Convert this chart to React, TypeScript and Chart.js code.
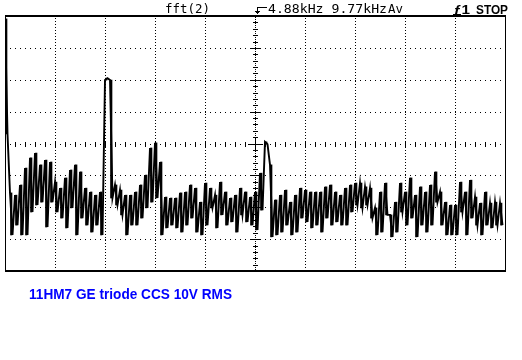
import React, { useEffect, useRef } from "react";
import { Chart, registerables } from "chart.js";

Chart.register(...registerables);

// Scope settings
const CENTER_KHZ = 4.88;
const SPAN_KHZ = 9.77;
const X_DIVS = 10;
const Y_DIVS = 8;
const DB_PER_DIV = 10;
const REF_DB = 0;

const TITLE = "fft(2)";
const FREQ_TEXT = `${CENTER_KHZ.toFixed(2)}kHz ${SPAN_KHZ.toFixed(2)}kHz`;
const MODE_TEXT = "Av";
const TRIG_TEXT = "ƒ1";
const STATE_TEXT = "STOP";
const CAPTION = "11HM7 GE triode CCS 10V RMS";

// FFT trace, 100 uniform bins across the span: peak (upper) and floor (lower) level in dB
const UPPER_DB = [
  -0.9, -55.5, -56.2, -53.0, -47.7, -44.5, -43.0, -46.7, -45.2, -45.8,
  -52.1, -54.0, -50.8, -48.3, -46.7, -48.9, -54.0, -55.2, -56.2, -55.2,
  -20.1, -20.1, -53.0, -54.6, -56.2, -56.2, -55.2, -53.0, -49.9, -41.4,
  -39.8, -45.8, -56.8, -57.1, -57.1, -55.5, -55.2, -53.0, -54.0, -58.4,
  -52.4, -54.0, -56.2, -52.1, -55.2, -57.1, -56.2, -54.0, -55.2, -56.8,
  -55.2, -49.3, -39.5, -46.7, -57.7, -56.2, -54.6, -58.4, -56.2, -54.0,
  -54.6, -55.2, -55.2, -55.2, -53.6, -53.0, -55.2, -56.2, -54.0, -53.0,
  -52.4, -52.4, -53.6, -54.0, -60.2, -55.2, -52.4, -62.4, -58.4, -52.4,
  -55.2, -50.8, -56.2, -53.6, -55.2, -53.0, -48.9, -55.2, -58.4, -59.3,
  -59.3, -52.1, -55.2, -51.5, -56.8, -58.7, -55.2, -58.7, -58.4, -58.7,
];
const LOWER_DB = [
  -37.0, -68.7, -65.6, -68.7, -68.7, -61.5, -59.3, -58.4, -66.2, -58.4,
  -61.5, -63.4, -66.5, -60.2, -68.7, -63.4, -65.6, -67.8, -65.6, -68.7,
  -19.5, -57.1, -59.3, -62.4, -68.7, -65.6, -65.6, -63.4, -60.2, -58.4,
  -57.1, -68.7, -66.5, -65.6, -66.5, -67.8, -65.6, -63.4, -67.8, -68.7,
  -65.6, -60.2, -66.5, -62.4, -65.6, -64.6, -67.8, -62.4, -64.6, -65.6,
  -67.1, -60.9, -40.2, -69.3, -68.7, -67.8, -65.6, -68.7, -67.8, -63.4,
  -64.6, -66.5, -65.6, -67.8, -63.4, -65.6, -64.6, -65.6, -65.6, -61.5,
  -59.3, -60.2, -59.3, -63.4, -68.7, -67.8, -62.4, -69.3, -67.8, -61.5,
  -65.6, -63.4, -69.3, -65.6, -67.8, -65.6, -58.4, -65.6, -68.7, -68.7,
  -68.7, -61.5, -68.7, -63.4, -65.6, -68.7, -65.6, -66.5, -65.6, -65.6,
];

const BIN_KHZ = SPAN_KHZ / UPPER_DB.length;

function drawFit(ctx: CanvasRenderingContext2D, text: string, x: number, baseline: number, width: number, font: string) {
  ctx.save();
  ctx.font = font;
  const w = ctx.measureText(text).width;
  ctx.translate(x, baseline);
  ctx.scale(width / w, 1);
  ctx.textBaseline = "alphabetic";
  ctx.fillText(text, 0, 0);
  ctx.restore();
}

const scopeOverlay = {
  id: "scopeOverlay",
  beforeDatasetsDraw(chart: any) {
    const ctx: CanvasRenderingContext2D = chart.ctx;
    const { left, right, top, bottom } = chart.chartArea;
    const xs = chart.scales.x;
    const ys = chart.scales.y;
    ctx.save();
    ctx.fillStyle = "#000";
    const cx = Math.round(xs.getPixelForValue(SPAN_KHZ / 2));
    const cy = Math.round(ys.getPixelForValue(REF_DB - (Y_DIVS / 2) * DB_PER_DIV));
    // vertical dotted grid
    for (let k = 1; k < X_DIVS; k++) {
      if (k === X_DIVS / 2) continue;
      const X = Math.round(xs.getPixelForValue((k * SPAN_KHZ) / X_DIVS));
      for (let y = top + 2; y < bottom; y += 3) ctx.fillRect(X, y, 1, 1);
    }
    // horizontal dotted grid
    for (let k = 1; k < Y_DIVS; k++) {
      if (k === Y_DIVS / 2) continue;
      const Y = Math.round(ys.getPixelForValue(REF_DB - k * DB_PER_DIV));
      for (let x = left + 5; x < right; x += 5) ctx.fillRect(x, Y, 1, 1);
    }
    // horizontal centre axis with minor ticks
    for (let j = 1; left + j * 5 < right; j++) {
      const x = left + j * 5;
      if (j % 10 === 0) ctx.fillRect(x, cy - 3, 1, 7);
      else if (j % 2 === 0) ctx.fillRect(x, cy - 2, 1, 5);
      else ctx.fillRect(x, cy, 1, 1);
    }
    // vertical centre axis with minor ticks
    for (let y = top + 1; y < bottom; y += 2) ctx.fillRect(cx, y, 1, 1);
    const yMinor = (bottom - top) / (Y_DIVS * 5);
    for (let j = 1; j < Y_DIVS * 5; j++) {
      const y = Math.round(top + j * yMinor);
      if (j % 5 === 0) ctx.fillRect(cx - 4, y, 9, 1);
      else ctx.fillRect(cx - 2, y, 5, 1);
    }
    ctx.fillRect(cx - 7, cy, 15, 1);
    ctx.fillRect(cx, cy - 7, 1, 15);
    ctx.restore();
  },
  afterDatasetsDraw(chart: any) {
    const ctx: CanvasRenderingContext2D = chart.ctx;
    const { left, right, top, bottom } = chart.chartArea;
    ctx.save();
    ctx.fillStyle = "#000";
    // frame
    ctx.fillRect(left, top - 1, right - left + 1, 2);
    ctx.fillRect(left, bottom - 1, right - left + 1, 2);
    ctx.fillRect(left, top, 1, bottom - top);
    ctx.fillRect(right, top - 1, 1, bottom - top + 1);

    // header texts
    const mono = "12px 'DejaVu Sans Mono'";
    drawFit(ctx, TITLE, 165, 13, 45, mono);
    // centre marker arrow
    ctx.fillRect(257, 7, 10, 1);
    ctx.fillRect(257, 7, 1, 7);
    ctx.fillRect(255, 11, 5, 1);
    ctx.fillRect(256, 12, 3, 1);
    drawFit(ctx, FREQ_TEXT, 268, 13, 119, mono);
    drawFit(ctx, MODE_TEXT, 388, 13, 15, mono);
    ctx.fillRect(388, 15, 16, 1);
    drawFit(ctx, TRIG_TEXT, 453, 14, 17, "bold 13px 'Liberation Sans'");
    ctx.fillRect(453, 14, 8, 1);
    drawFit(ctx, STATE_TEXT, 476, 14, 32, "bold 13px 'Liberation Sans'");

    // caption
    ctx.fillStyle = "#0000ff";
    drawFit(ctx, CAPTION, 29, 299, 203, "bold 15px 'Liberation Sans'");
    ctx.restore();
  },
};

export default function App() {
  const canvasRef = useRef<HTMLCanvasElement | null>(null);

  useEffect(() => {
    const canvas = canvasRef.current;
    if (!canvas) return;
    const trace: { x: number; y: number }[] = [];
    const strokes: { x: number; y: [number, number] }[] = [];
    for (let i = 0; i < UPPER_DB.length; i++) {
      trace.push({ x: i * BIN_KHZ, y: UPPER_DB[i] });
      trace.push({ x: (i + 0.5) * BIN_KHZ, y: LOWER_DB[i] });
      strokes.push({ x: (i + 0.25) * BIN_KHZ, y: [LOWER_DB[i], UPPER_DB[i]] });
    }
    const chart = new Chart(canvas, {
      type: "bar",
      data: {
        datasets: [
          {
            type: "line",
            data: trace,
            borderColor: "#000",
            borderWidth: 1.9,
            pointRadius: 0,
            tension: 0,
            fill: false,
          } as any,
          {
            type: "bar",
            data: strokes as any,
            backgroundColor: "#000",
            borderWidth: 0,
            barThickness: 1.5,
            grouped: false,
          } as any,
        ],
      },
      options: {
        animation: false,
        responsive: false,
        devicePixelRatio: 1,
        layout: { padding: { left: 5, right: 17, top: 16, bottom: 89 } },
        scales: {
          x: { type: "linear", min: 0, max: SPAN_KHZ, display: false, offset: false },
          y: { type: "linear", min: REF_DB - Y_DIVS * DB_PER_DIV, max: REF_DB, display: false },
        },
        plugins: { legend: { display: false }, tooltip: { enabled: false } },
      },
      plugins: [scopeOverlay],
    });
    return () => chart.destroy();
  }, []);

  return (
    <div style={{ position: "fixed", left: 0, top: 0, width: 522, height: 360, background: "#fff" }}>
      <canvas ref={canvasRef} width={522} height={360} style={{ width: 522, height: 360, display: "block" }} />
    </div>
  );
}
